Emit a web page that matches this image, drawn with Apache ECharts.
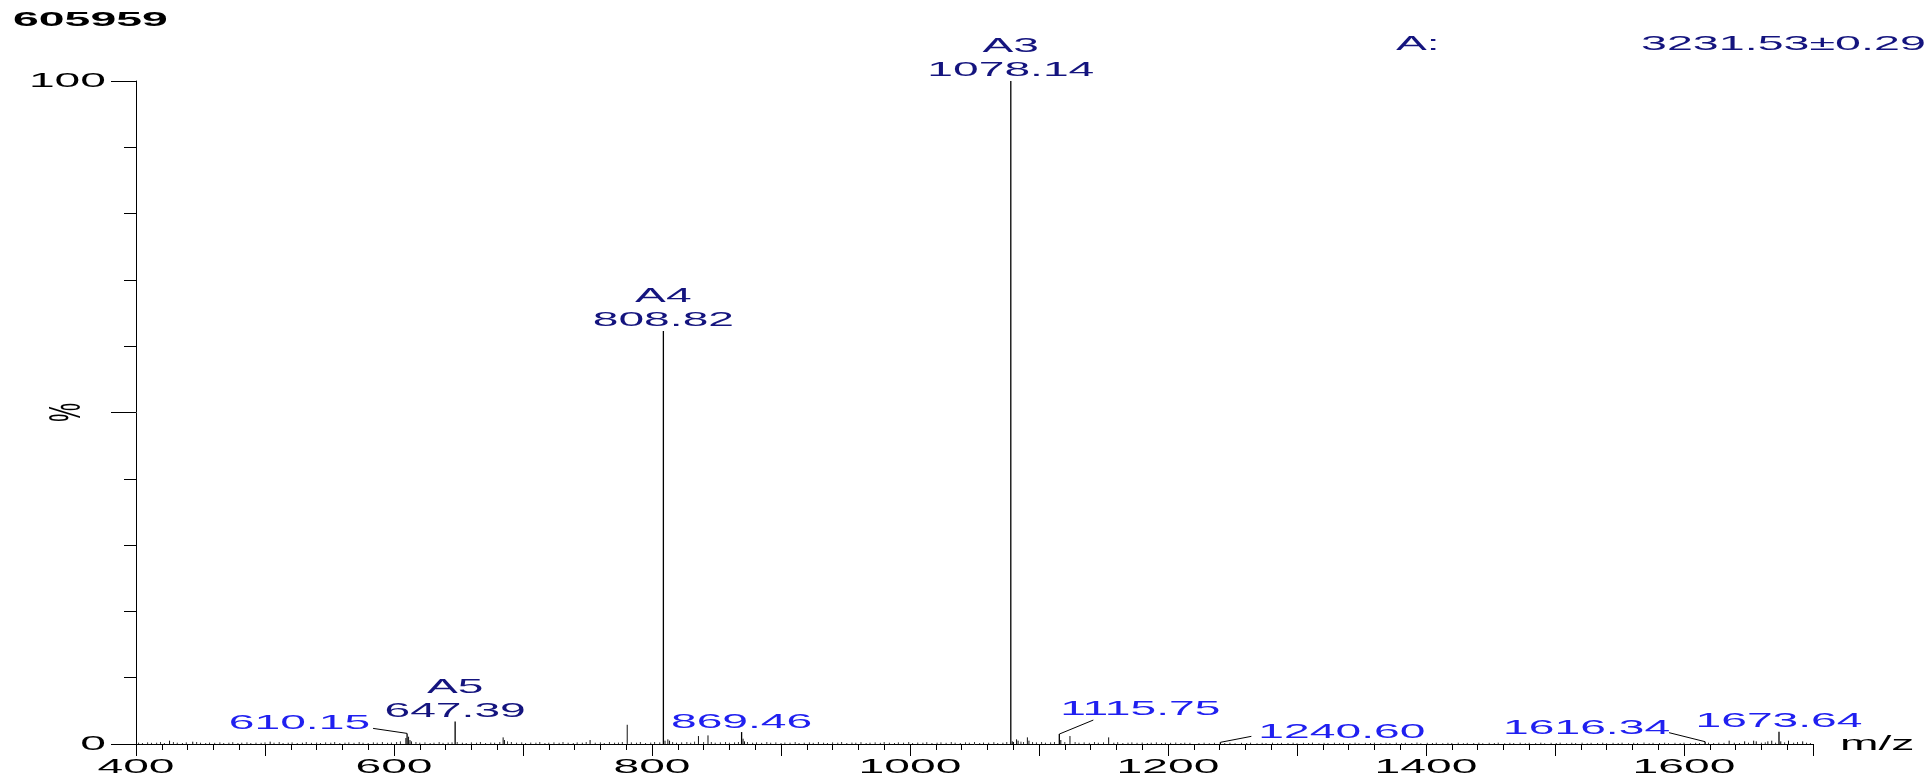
<!DOCTYPE html>
<html><head><meta charset="utf-8">
<script src="https://cdn.jsdelivr.net/npm/echarts@6/dist/echarts.min.js"></script>
<style>html,body{margin:0;padding:0;background:#fff}#c{width:1930px;height:780px}</style>
</head><body><div id="c"></div>
<script>
// ---------- text ----------
const sampleId = '605959';
const massLabel = 'A:';
const massValue = '3231.53\u00b10.29';
const xAxisName = 'm/z';
const yAxisName = '%';
const xTickValues = [400, 600, 800, 1000, 1200, 1400, 1600];
const xTickLabels = ['400', '600', '800', '1000', '1200', '1400', '1600'];
const yTickValues = [0, 100];
const yTickLabels = ['0', '100'];

// ---------- annotated peaks ----------
const peakMz   = [610.15, 647.39, 808.82, 869.46, 1078.14, 1115.75, 1240.60, 1616.34, 1673.64];
const peakInt  = [1.6, 3.4, 62.3, 1.8, 100, 1.5, 0.25, 0.35, 1.85];
const peakTag  = ['', 'A5', 'A4', '', 'A3', '', '', '', ''];
const peakText = ['610.15', '647.39', '808.82', '869.46', '1078.14', '1115.75', '1240.60', '1616.34', '1673.64'];

// ---------- other small peaks [m/z, %] ----------
const minorPeaks = [
  [426,0.5],[444,0.35],[504,0.35],[609.2,0.9],[611.3,1.1],[612.4,0.6],[613.5,0.4],[684.6,1.0],[685.6,0.6],
  [752,0.6],[780.8,2.9],[810.1,0.5],[812.3,0.7],[813.6,0.5],[836,1.2],[843.4,1.3],[870.6,0.8],[871.7,0.4],
  [1079.3,0.4],[1080.2,0.3],[1082.6,0.7],[1083.8,0.5],[1091,1.0],[1092.2,0.5],[1116.9,0.6],[1124,1.2],[1154,1.0],
  [1635,0.5],[1647,0.4],[1654,0.5],[1656,0.4],[1665,0.4],[1668,0.5],[1675,0.4],[1681,0.5],[1692,0.4]
];

// ---------- baseline noise [m/z, %] ----------
const noisePeaks = [
  [402,0.2],[405,0.15],[409,0.25],[412,0.18],[416,0.2],[419,0.3],[422,0.15],[429,0.3],[432,0.2],[436,0.15],[439,0.25],
  [447,0.3],[450,0.2],[454,0.15],[457,0.22],[461,0.18],[465,0.25],[468,0.15],[472,0.2],[475,0.28],[479,0.15],[482,0.2],
  [486,0.25],[489,0.15],[493,0.2],[497,0.18],[500,0.25],[507,0.2],[511,0.3],[514,0.15],[518,0.2],[521,0.25],[525,0.15],
  [529,0.2],[532,0.3],[536,0.18],[540,0.22],[543,0.15],[547,0.25],[551,0.2],[554,0.3],[558,0.15],[562,0.2],[565,0.25],
  [569,0.18],[573,0.3],[576,0.2],[580,0.15],[584,0.25],[587,0.2],[591,0.3],[595,0.18],[598,0.22],[602,0.3],[605,0.4],
  [617,0.3],[620,0.2],[624,0.25],[628,0.15],[631,0.2],[635,0.3],[638,0.18],[642,0.22],[645,0.25],[649,0.3],[653,0.2],
  [656,0.15],[660,0.25],[664,0.2],[667,0.3],[671,0.15],[675,0.22],[678,0.2],[682,0.3],[688,0.4],[691,0.3],[695,0.2],
  [699,0.25],[702,0.15],[706,0.22],[710,0.2],[713,0.3],[717,0.15],[720,0.2],[724,0.25],[728,0.18],[731,0.3],[735,0.2],
  [739,0.15],[742,0.25],[746,0.2],[749,0.3],[756,0.2],[760,0.25],[763,0.15],[767,0.3],[771,0.2],[774,0.22],[777,0.3],
  [784,0.25],[788,0.2],[791,0.3],[795,0.15],[799,0.22],[802,0.3],[806,0.25],[816,0.3],[819,0.2],[823,0.25],[827,0.3],
  [830,0.2],[833,0.35],[840,0.3],[846,0.3],[849,0.2],[853,0.25],[857,0.3],[860,0.2],[864,0.25],[867,0.3],[874,0.3],
  [878,0.2],[881,0.25],[885,0.18],[889,0.3],[892,0.2],[896,0.25],[900,0.15],[903,0.22],[907,0.2],[911,0.3],[914,0.15],
  [918,0.2],[922,0.25],[925,0.18],[929,0.3],[933,0.2],[936,0.15],[940,0.25],[944,0.2],[947,0.3],[951,0.15],[955,0.22],
  [958,0.2],[962,0.28],[966,0.15],[969,0.2],[973,0.25],[977,0.18],[980,0.3],[984,0.2],[988,0.15],[991,0.25],[995,0.2],
  [999,0.3],[1002,0.15],[1006,0.22],[1010,0.2],[1013,0.28],[1017,0.15],[1021,0.2],[1024,0.25],[1028,0.18],[1032,0.3],
  [1035,0.2],[1039,0.15],[1043,0.25],[1046,0.2],[1050,0.3],[1054,0.15],[1057,0.22],[1061,0.2],[1065,0.28],[1068,0.15],
  [1072,0.2],[1075,0.3],[1086,0.35],[1088,0.3],[1095,0.3],[1098,0.25],[1102,0.3],[1105,0.2],[1109,0.25],[1112,0.3],
  [1120,0.3],[1128,0.3],[1131,0.2],[1135,0.25],[1139,0.18],[1143,0.3],[1146,0.2],[1150,0.25],[1158,0.2],[1161,0.28],
  [1165,0.15],[1169,0.2],[1172,0.25],[1176,0.18],[1180,0.22],[1184,0.15],[1187,0.2],[1191,0.25],[1195,0.15],[1198,0.2],
  [1202,0.18],[1206,0.22],[1210,0.15],[1213,0.2],[1217,0.18],[1224,0.15],[1228,0.2],[1232,0.12],[1236,0.18],[1244,0.15],
  [1248,0.2],[1252,0.12],[1257,0.18],[1261,0.15],[1264,0.2],[1269,0.12],[1273,0.18],[1276,0.14],[1281,0.2],[1285,0.12],
  [1288,0.17],[1293,0.15],[1297,0.2],[1300,0.12],[1305,0.18],[1309,0.15],[1312,0.21],[1317,0.12],[1321,0.18],[1324,0.15],
  [1329,0.2],[1333,0.12],[1336,0.18],[1341,0.14],[1345,0.2],[1348,0.12],[1353,0.18],[1357,0.15],[1360,0.2],[1365,0.12],
  [1369,0.19],[1372,0.15],[1377,0.2],[1381,0.12],[1384,0.18],[1389,0.15],[1393,0.22],[1396,0.12],[1401,0.18],[1405,0.15],
  [1408,0.2],[1413,0.12],[1417,0.18],[1420,0.15],[1425,0.2],[1429,0.12],[1432,0.17],[1437,0.15],[1441,0.2],[1444,0.12],
  [1449,0.18],[1453,0.15],[1456,0.21],[1461,0.12],[1465,0.18],[1468,0.15],[1473,0.2],[1477,0.12],[1480,0.18],[1485,0.14],
  [1489,0.2],[1492,0.12],[1497,0.18],[1501,0.15],[1504,0.2],[1509,0.12],[1513,0.19],[1516,0.15],[1521,0.2],[1525,0.12],
  [1528,0.18],[1533,0.15],[1537,0.2],[1540,0.12],[1545,0.18],[1549,0.15],[1552,0.2],[1557,0.12],[1561,0.18],[1564,0.15],
  [1569,0.22],[1573,0.12],[1576,0.18],[1581,0.15],[1585,0.2],[1588,0.12],[1593,0.18],[1597,0.15],[1600,0.2],[1605,0.12],
  [1609,0.18],[1612,0.15],[1619,0.2],[1623,0.15],[1627,0.2],[1631,0.18],[1639,0.2],[1643,0.15],[1650,0.2],[1660,0.2],
  [1663,0.25],[1671,0.2],[1678,0.25],[1685,0.2],[1688,0.3],[1695,0.2],[1698,0.15]
];

// ---------- presentation (not data) ----------
const FONT = '"Liberation Sans", Arial, sans-serif';
const FS = 21, SX = 2.2;
const NAVY = '#14147e', BLUE = '#2020f0';
// label placement relative to the peak top, in pixels
const labelLayout = [
  {align:'right',  dx:-37, dy:-10,  leader:[-34,-5]},
  {align:'center', dx:0,   dy:-10.5},
  {align:'center', dx:0,   dy:-10.5},
  {align:'center', dx:0,   dy:-9.5},
  {align:'center', dx:0,   dy:-10.5},
  {align:'left',   dx:1,   dy:-25,  leader:[34,-14]},
  {align:'left',   dx:38,  dy:-10.5, leader:[31,-6]},
  {align:'right',  dx:-35, dy:-13.5, leader:[-36,-9]},
  {align:'center', dx:0,   dy:-11}
];
const TAG_DY = -34.5;

function txt(text, x, y, align, color, opts) {
  opts = opts || {};
  return {
    type: 'text', x: x, y: y, scaleX: opts.sx || SX, scaleY: opts.sy || 1, rotation: opts.rot || 0,
    style: { text: text, x: 0, y: 0, align: align, verticalAlign: 'middle', fill: color,
             font: (opts.weight || 'normal') + ' ' + (opts.fs || FS) + 'px ' + FONT }
  };
}

const chart = echarts.init(document.getElementById('c'), null, { renderer: 'canvas' });

const stick = (color, width) => function (params, api) {
  const x = api.value(0), y = api.value(1);
  const p0 = api.coord([x, 0]), p1 = api.coord([x, y]);
  return { type: 'line', shape: { x1: p0[0], y1: p0[1], x2: p1[0], y2: p1[1] },
           style: { stroke: color, lineWidth: width } };
};

const option = {
  animation: false,
  backgroundColor: '#ffffff',
  grid: { left: 136, top: 81, width: 1677, height: 663 },
  xAxis: {
    type: 'value', min: 400, max: 1700, interval: 100,
    axisLine: { show: true, lineStyle: { color: '#000', width: 1 } },
    axisTick: { show: true, length: 12, lineStyle: { color: '#000', width: 1 } },
    minorTick: { show: true, splitNumber: 5, length: 6, lineStyle: { color: '#000', width: 1 } },
    axisLabel: { show: false }, splitLine: { show: false }, minorSplitLine: { show: false }
  },
  yAxis: [
    { type: 'value', min: 0, max: 100, interval: 10,
      axisLine: { show: true, lineStyle: { color: '#000', width: 1 } },
      axisTick: { show: true, length: 12, lineStyle: { color: '#000', width: 1 } },
      axisLabel: { show: false }, splitLine: { show: false } },
    { type: 'value', min: 0, max: 100, interval: 50, position: 'left', offset: 0,
      axisLine: { show: false },
      axisTick: { show: true, length: 25, lineStyle: { color: '#000', width: 1 } },
      axisLabel: { show: false }, splitLine: { show: false } }
  ],
  graphic: [
    txt(sampleId, 13, 20, 'left', '#000', { weight: 'bold', fs: 20, sx: 2.32 }),
    txt(massLabel, 1396, 44.5, 'left', NAVY),
    txt(massValue, 1641, 44.5, 'left', NAVY, { sx: 2.22 })
  ],
  series: [
    { type: 'custom', name: 'noise', silent: true, clip: false,
      data: noisePeaks, encode: { x: 0, y: 1 }, renderItem: stick('#3a3a3a', 1) },
    { type: 'custom', name: 'minor', silent: true, clip: false,
      data: minorPeaks, encode: { x: 0, y: 1 }, renderItem: stick('#111', 1) },
    { type: 'custom', name: 'peaks', silent: true, clip: false,
      data: peakMz.map((m, i) => [m, peakInt[i]]), encode: { x: 0, y: 1 }, renderItem: stick('#000', 1.3) },
    { type: 'custom', name: 'peakLabels', silent: true, clip: false,
      data: peakMz.map((m, i) => [m, peakInt[i]]), encode: { x: 0, y: 1 },
      renderItem: function (params, api) {
        const i = params.dataIndex;
        const p = api.coord([api.value(0), api.value(1)]);
        const lay = labelLayout[i];
        const color = peakTag[i] ? NAVY : BLUE;
        const children = [txt(peakText[i], p[0] + lay.dx, p[1] + lay.dy, lay.align, color)];
        if (peakTag[i]) children.push(txt(peakTag[i], p[0], p[1] + TAG_DY, 'center', color));
        if (lay.leader) children.push({ type: 'line',
          shape: { x1: p[0] + lay.leader[0], y1: p[1] + lay.leader[1], x2: p[0], y2: p[1] },
          style: { stroke: '#000', lineWidth: 1 } });
        return { type: 'group', children: children };
      } },
    { type: 'custom', name: 'xTicks', silent: true, clip: false,
      data: xTickValues.map(v => [v, 0]), encode: { x: 0, y: 1 },
      renderItem: function (params, api) {
        const p = api.coord([api.value(0), 0]);
        return txt(xTickLabels[params.dataIndex], p[0], p[1] + 23.5, 'center', '#000');
      } },
    { type: 'custom', name: 'yTicks', silent: true, clip: false,
      data: yTickValues.map(v => [400, v]), encode: { x: 0, y: 1 },
      renderItem: function (params, api) {
        const p = api.coord([400, api.value(1)]);
        return txt(yTickLabels[params.dataIndex], p[0] - 30, p[1] + 0.5, 'right', '#000');
      } },
    { type: 'custom', name: 'axisNames', silent: true, clip: false,
      data: [[400, 50]], encode: { x: 0, y: 1 },
      renderItem: function (params, api) {
        const pm = api.coord([400, 50]);
        const pe = api.coord([1700, 0]);
        return { type: 'group', children: [
          txt(yAxisName, pm[0] - 68, pm[1], 'center', '#000', { rot: Math.PI / 2, sx: 1, sy: 2.1 }),
          txt(xAxisName, pe[0] + 27, pe[1], 'left', '#000')
        ] };
      } }
  ]
};
chart.setOption(option);
</script>
</body></html>
